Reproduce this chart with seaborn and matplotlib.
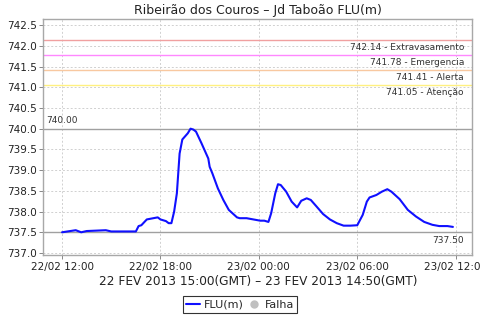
import matplotlib
matplotlib.use("Agg")
import matplotlib.pyplot as plt
import matplotlib.dates as mdates
from matplotlib.lines import Line2D
import seaborn as sns
import pandas as pd

title = "Ribeirão dos Couros – Jd Taboão FLU(m)"
xlabel = "22 FEV 2013 15:00(GMT) – 23 FEV 2013 14:50(GMT)"

times = [
    "2013-02-22 12:00", "2013-02-22 12:50", "2013-02-22 13:10", "2013-02-22 13:30",
    "2013-02-22 14:40", "2013-02-22 15:00", "2013-02-22 16:30", "2013-02-22 16:40",
    "2013-02-22 16:50", "2013-02-22 17:10", "2013-02-22 17:50", "2013-02-22 18:00",
    "2013-02-22 18:20", "2013-02-22 18:30", "2013-02-22 18:40", "2013-02-22 18:50",
    "2013-02-22 19:00", "2013-02-22 19:10", "2013-02-22 19:20", "2013-02-22 19:40",
    "2013-02-22 19:50", "2013-02-22 20:00", "2013-02-22 20:10", "2013-02-22 20:30",
    "2013-02-22 20:55", "2013-02-22 21:00", "2013-02-22 21:10", "2013-02-22 21:30",
    "2013-02-22 21:50", "2013-02-22 22:10", "2013-02-22 22:40", "2013-02-22 22:50",
    "2013-02-22 23:15", "2013-02-22 23:40", "2013-02-23 00:05", "2013-02-23 00:20",
    "2013-02-23 00:35", "2013-02-23 00:45", "2013-02-23 01:00", "2013-02-23 01:10",
    "2013-02-23 01:20", "2013-02-23 01:40", "2013-02-23 02:00", "2013-02-23 02:20",
    "2013-02-23 02:35", "2013-02-23 02:55", "2013-02-23 03:10", "2013-02-23 03:30",
    "2013-02-23 03:55", "2013-02-23 04:20", "2013-02-23 04:45", "2013-02-23 05:10",
    "2013-02-23 05:35", "2013-02-23 06:00", "2013-02-23 06:20", "2013-02-23 06:35",
    "2013-02-23 06:45", "2013-02-23 07:10", "2013-02-23 07:30", "2013-02-23 07:50",
    "2013-02-23 08:05", "2013-02-23 08:35", "2013-02-23 09:05", "2013-02-23 09:35",
    "2013-02-23 10:05", "2013-02-23 10:35", "2013-02-23 11:00", "2013-02-23 11:30",
    "2013-02-23 11:50",
]
flu = [
    737.50, 737.55, 737.50, 737.53,
    737.55, 737.52, 737.52, 737.65,
    737.67, 737.81, 737.86, 737.81,
    737.77, 737.72, 737.72, 738.00,
    738.44, 739.40, 739.74, 739.89,
    740.00, 739.98, 739.93, 739.65,
    739.28, 739.08, 738.92, 738.56,
    738.28, 738.04, 737.86, 737.84,
    737.84, 737.81, 737.78, 737.78,
    737.75, 737.96, 738.44, 738.66,
    738.64, 738.48, 738.24, 738.10,
    738.26, 738.32, 738.28, 738.13,
    737.94, 737.81, 737.72, 737.66,
    737.66, 737.67, 737.92, 738.24,
    738.34, 738.40, 738.48, 738.54,
    738.48, 738.30, 738.04, 737.88,
    737.75, 737.68, 737.65, 737.65,
    737.63,
]

threshold_values = [742.14, 741.78, 741.41, 741.05]
threshold_names = ["Extravasamento", "Emergencia", "Alerta", "Atenção"]
threshold_colors = ["#f0a0a0", "#ff88ff", "#f8c8a0", "#fff080"]

max_value = 740.00
min_value = 737.50

xtick_times = ["2013-02-22 12:00", "2013-02-22 18:00", "2013-02-23 00:00",
               "2013-02-23 06:00", "2013-02-23 12:00"]
yticks = [737.0, 737.5, 738.0, 738.5, 739.0, 739.5, 740.0, 740.5,
          741.0, 741.5, 742.0, 742.5]

df = pd.DataFrame({"time": pd.to_datetime(times), "FLU(m)": flu})

sns.set_theme(style="white")
plt.rcParams["font.family"] = ["DejaVu Sans"]

fig = plt.figure(figsize=(4.8, 3.2), dpi=100)
ax = fig.add_axes([0.0906, 0.2016, 0.8934, 0.7381])

ax.grid(True, color="#d0d0d0", linestyle=(0, (2, 2)), linewidth=0.7)
ax.set_axisbelow(True)

for v, n, c in zip(threshold_values, threshold_names, threshold_colors):
    ax.axhline(v, color=c, linewidth=1.0, zorder=2)
    ax.annotate(f"{v:.2f} - {n}", xy=(1, v), xycoords=("axes fraction", "data"),
                xytext=(-6, -2), textcoords="offset points", ha="right", va="top",
                fontsize=6.5, color="#333333")

ax.axhline(max_value, color="#a0a0a0", linewidth=1.0, zorder=2)
ax.annotate(f"{max_value:.2f}", xy=(0, max_value), xycoords=("axes fraction", "data"),
            xytext=(2, 3), textcoords="offset points", ha="left", va="bottom",
            fontsize=6.5, color="#333333")
ax.axhline(min_value, color="#a0a0a0", linewidth=1.0, zorder=2)
ax.annotate(f"{min_value:.2f}", xy=(1, min_value), xycoords=("axes fraction", "data"),
            xytext=(-6, -3), textcoords="offset points", ha="right", va="top",
            fontsize=6.5, color="#333333")

sns.lineplot(data=df, x="time", y="FLU(m)", ax=ax, color="#1010ff",
             linewidth=1.5, zorder=3, legend=False)

ax.set_xlim(pd.Timestamp("2013-02-22 10:52"), pd.Timestamp("2013-02-23 13:01"))
ax.set_ylim(736.94, 742.64)
ax.set_xticks(pd.to_datetime(xtick_times))
ax.xaxis.set_major_formatter(mdates.DateFormatter("%d/%m %H:%M"))
ax.set_yticks(yticks)
ax.yaxis.set_major_formatter(matplotlib.ticker.FormatStrFormatter("%.1f"))
ax.tick_params(axis="both", labelsize=7.5, length=3,
               width=0.7, direction="out", bottom=True, left=True, pad=2,
               colors="#888888", labelcolor="#222222")

for s in ax.spines.values():
    s.set_color("#a8a8a8")
    s.set_linewidth(1.0)

ax.set_title(title, fontsize=9, color="#222222", pad=4)
ax.set_xlabel(xlabel, fontsize=8.7, color="#222222", labelpad=2)
ax.set_ylabel("")

handles = [
    Line2D([0], [0], color="#1010ff", linewidth=1.5),
    Line2D([0], [0], marker="o", linestyle="", markersize=5,
           markerfacecolor="#c0c0c0", markeredgecolor="#c0c0c0"),
]
leg = fig.legend(handles, ["FLU(m)", "Falha"], loc="center",
                 bbox_to_anchor=(0.5, 0.0475), ncol=2, fontsize=8,
                 frameon=True, fancybox=False, handlelength=1.3,
                 handletextpad=0.3, columnspacing=0.3, borderpad=0.3,
                 borderaxespad=0)
leg.get_frame().set_edgecolor("black")
leg.get_frame().set_linewidth(0.8)

fig.savefig("out.png", dpi=100)
